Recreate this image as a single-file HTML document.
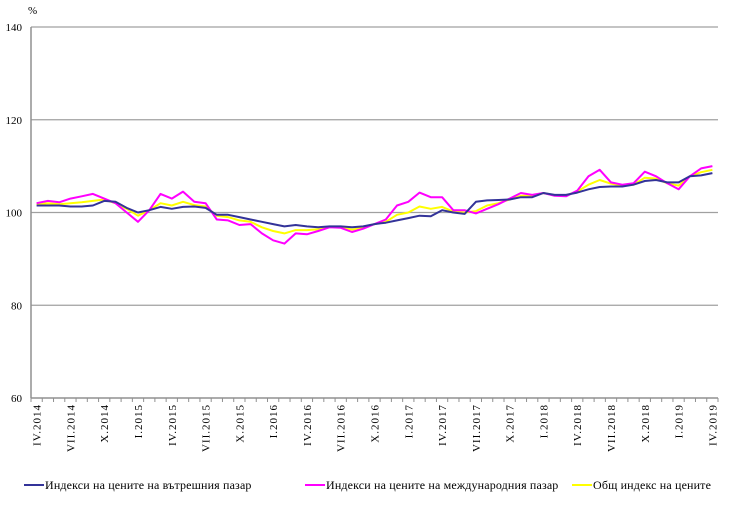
<!DOCTYPE html>
<html><head><meta charset="utf-8"><style>
body{margin:0;background:#fff;}
svg{display:block;font-family:"Liberation Serif",serif;}
</style></head><body>
<svg id="chart" width="740" height="505" viewBox="0 0 740 505"></svg>
<script>
const categories=["IV.2014","V.2014","VI.2014","VII.2014","VIII.2014","IX.2014","X.2014","XI.2014","XII.2014","I.2015","II.2015","III.2015","IV.2015","V.2015","VI.2015","VII.2015","VIII.2015","IX.2015","X.2015","XI.2015","XII.2015","I.2016","II.2016","III.2016","IV.2016","V.2016","VI.2016","VII.2016","VIII.2016","IX.2016","X.2016","XI.2016","XII.2016","I.2017","II.2017","III.2017","IV.2017","V.2017","VI.2017","VII.2017","VIII.2017","IX.2017","X.2017","XI.2017","XII.2017","I.2018","II.2018","III.2018","IV.2018","V.2018","VI.2018","VII.2018","VIII.2018","IX.2018","X.2018","XI.2018","XII.2018","I.2019","II.2019","III.2019","IV.2019"];
const domestic=[101.5,101.5,101.5,101.3,101.3,101.5,102.5,102.3,101,100,100.5,101.2,100.8,101.2,101.3,101,99.5,99.5,99,98.5,98,97.5,97,97.3,97,96.8,97,97,96.8,97,97.5,97.8,98.3,98.8,99.3,99.2,100.5,100,99.7,102.3,102.6,102.7,102.8,103.3,103.3,104.2,103.8,103.8,104.3,105,105.5,105.6,105.6,106,106.8,107,106.5,106.5,107.8,108,108.5];
const international=[102,102.5,102.2,103,103.5,104,103,102,100,98,100.5,104,103,104.5,102.3,102,98.5,98.3,97.3,97.5,95.5,94,93.3,95.5,95.3,96,96.8,96.7,95.8,96.5,97.5,98.5,101.5,102.3,104.3,103.3,103.3,100.5,100.5,99.8,100.8,101.8,103,104.2,103.8,104.2,103.6,103.5,104.7,107.8,109.2,106.5,106,106.3,108.8,107.8,106.3,105,107.8,109.5,110];
const overall=[101.8,102,101.8,102,102.2,102.5,102.8,102,100.8,99.3,100.5,102,101.5,102.3,101.6,101.3,99.3,99,98.3,98,96.8,96,95.5,96.2,96.2,96.4,96.9,96.9,96.3,96.8,97.5,98,99.5,100,101.3,100.8,101.2,100.2,100,100.3,101.5,102,102.8,103.6,103.6,104.2,103.7,103.7,104.5,106,107,106.2,105.8,106,107.5,107.3,106.3,105.8,107.8,108.7,109.2];
const yTicks=[60,80,100,120,140];
const seriesNames=["Индекси на цените на вътрешния пазар","Индекси на цените на международния пазар","Общ индекс на цените"];

const NS="http://www.w3.org/2000/svg";
const svg=document.getElementById('chart');
const L=31,R=718,T=27,B=398;
const band=(R-L)/categories.length;
function xs(i){return L+band*(i+0.5);}
function ys(v){return B-(v-60)/(140-60)*(B-T);}
function mk(tag,attrs,parent){const e=document.createElementNS(NS,tag);for(const k in attrs)e.setAttribute(k,attrs[k]);(parent||svg).appendChild(e);return e;}

const pct=mk('text',{x:28,y:14,'font-size':11,fill:'#000'});pct.textContent='%';



yTicks.forEach(v=>{
  if(v>60){const g=mk('line',{x1:L,x2:R,y1:ys(v),y2:ys(v),stroke:'#a0a0a0','stroke-width':1.2});
  
  }
  const t=mk('text',{x:22,y:ys(v)+4,'font-size':11,'text-anchor':'end',fill:'#000'});t.textContent=v;
  
  
});
const ya=mk('line',{x1:L,x2:L,y1:T,y2:B,stroke:'#909090','stroke-width':1.5});


const xa=mk('line',{x1:L,x2:R,y1:B,y2:B,stroke:'#909090','stroke-width':1.5});


for(let i=0;i<=categories.length;i++){
  const tk=mk('line',{x1:L+band*i,x2:L+band*i,y1:B,y2:B+4,stroke:'#909090','stroke-width':1});
  
  
}
categories.forEach((c,i)=>{
  if(i%3!==0)return;
  const x=xs(i)+4;
  const t=mk('text',{x:x,y:404,'font-size':11,'letter-spacing':1,'text-anchor':'end',transform:`rotate(-90 ${x} 404)`,fill:'#000'});
  t.textContent=c;
  
  
});
function line(data,color,name){
  const p=mk('polyline',{points:data.map((v,i)=>xs(i).toFixed(1)+','+ys(v).toFixed(1)).join(' '),fill:'none',stroke:color,'stroke-width':2,'stroke-linejoin':'round'});
  
  
}
line(overall,'#ffff00','overall-index-line');
line(international,'#ff00ff','international-market-line');
line(domestic,'#333399','domestic-market-line');

const legend=[[24,'#333399'],[305,'#ff00ff'],[572,'#ffff00']];
legend.forEach((l,k)=>{
  const g=mk('g',{});
  
  
  mk('line',{x1:l[0],x2:l[0]+20,y1:485,y2:485,stroke:l[1],'stroke-width':2},g);
  const t=mk('text',{x:l[0]+21,y:489,'font-size':12,'letter-spacing':0.15,fill:'#000'},g);t.textContent=seriesNames[k];
});
</script>
</body></html>
